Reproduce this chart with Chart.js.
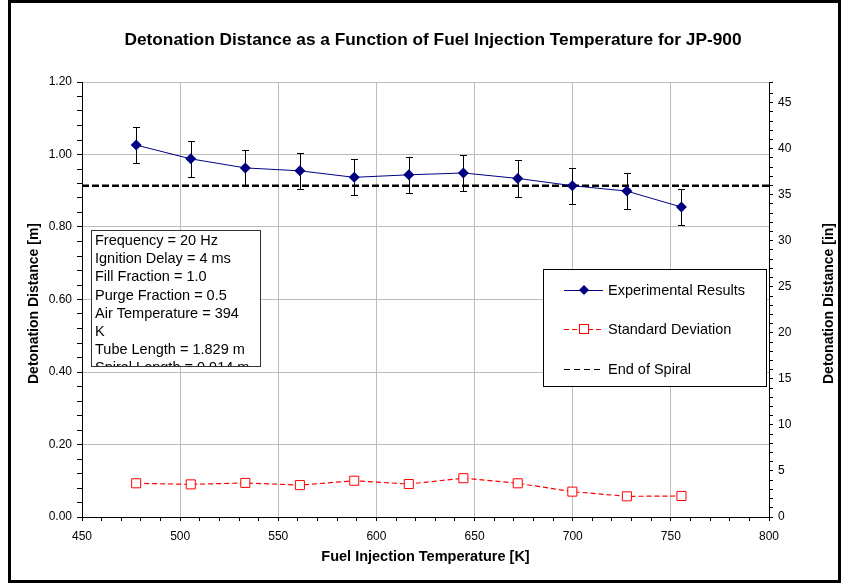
<!DOCTYPE html>
<html>
<head>
<meta charset="utf-8">
<script src="https://cdn.jsdelivr.net/npm/chart.js@4.4.1/dist/chart.umd.min.js"></script>
<style>
  html, body { margin: 0; padding: 0; background: #fff; }
  canvas { display: block; }
</style>
</head>
<body>
<canvas id="chart" width="845" height="583"></canvas>
<script>
// fuel injection temperatures [K] (400..900 F)
const temps = [477.6, 505.4, 533.2, 561.0, 588.7, 616.5, 644.3, 672.0, 699.8, 727.6, 755.4];
// measured detonation distance [m]
const detDistance = [1.026, 0.988, 0.963, 0.955, 0.937, 0.944, 0.949, 0.934, 0.914, 0.899, 0.855];
// error bar half width [m]
const errorBars = [0.05, 0.05, 0.05, 0.05, 0.05, 0.05, 0.05, 0.05, 0.05, 0.05, 0.05];
// standard deviation [m]
const stdDev = [0.093, 0.090, 0.094, 0.088, 0.100, 0.091, 0.107, 0.093, 0.070, 0.057, 0.058];
// end of spiral [m]
const spiralEnd = 0.914;
const spiralX = [450, 800];

const titleText = 'Detonation Distance as a Function of Fuel Injection Temperature for JP-900';
const xTitle = 'Fuel Injection Temperature [K]';
const yTitle = 'Detonation Distance [m]';
const y2Title = 'Detonation Distance [in]';
const seriesNames = ['Experimental Results', 'Standard Deviation', 'End of Spiral'];
const infoLines = [
  'Frequency = 20 Hz',
  'Ignition Delay = 4 ms',
  'Fill Fraction = 1.0',
  'Purge Fraction = 0.5',
  'Air Temperature = 394',
  'K',
  'Tube Length = 1.829 m',
  'Spiral Length = 0.914 m'
];

const FONT = 'Liberation Sans, Arial, sans-serif';
const NAVY = '#000080';
const RED = '#ff0000';
const GRID = '#bdbdbd';

Chart.defaults.font.family = FONT;
Chart.defaults.color = '#000';

function isMultiple(v, step) {
  const r = v / step;
  return Math.abs(r - Math.round(r)) < 1e-6;
}

function drawErrorBars(chart) {
  const ctx = chart.ctx;
  const xs = chart.scales.x;
  const ys = chart.scales.y;
  ctx.save();
  ctx.strokeStyle = '#000';
  ctx.lineWidth = 1;
  temps.forEach((t, i) => {
    const px = Math.round(xs.getPixelForValue(t)) + 0.5;
    const top = Math.round(ys.getPixelForValue(detDistance[i] + errorBars[i])) + 0.5;
    const bot = Math.round(ys.getPixelForValue(detDistance[i] - errorBars[i])) + 0.5;
    ctx.beginPath();
    ctx.moveTo(px, top); ctx.lineTo(px, bot);
    ctx.moveTo(px - 3.5, top); ctx.lineTo(px + 3.5, top);
    ctx.moveTo(px - 3.5, bot); ctx.lineTo(px + 3.5, bot);
    ctx.stroke();
  });
  ctx.restore();
}

function drawTitles(chart) {
  const ctx = chart.ctx;
  const area = chart.chartArea;
  const midY = (area.top + area.bottom) / 2;
  ctx.save();
  ctx.fillStyle = '#000';
  ctx.textAlign = 'center';
  ctx.textBaseline = 'middle';
  ctx.font = 'bold 17.3px ' + FONT;
  ctx.fillText(titleText, 433, 40);
  ctx.font = 'bold 14.5px ' + FONT;
  ctx.fillText(xTitle, (area.left + area.right) / 2, 557);
  ctx.font = 'bold 14px ' + FONT;
  ctx.save();
  ctx.translate(34, midY + 4);
  ctx.rotate(-Math.PI / 2);
  ctx.fillText(yTitle, 0, 0);
  ctx.restore();
  ctx.save();
  ctx.translate(829, midY + 4);
  ctx.rotate(-Math.PI / 2);
  ctx.fillText(y2Title, 0, 0);
  ctx.restore();
  ctx.restore();
}

function drawInfoBox(ctx) {
  const x0 = 91.5, y0 = 230.5, w = 169, h = 136;
  ctx.save();
  ctx.fillStyle = '#fff';
  ctx.fillRect(x0, y0, w, h);
  ctx.beginPath();
  ctx.rect(x0, y0, w, h);
  ctx.clip();
  ctx.fillStyle = '#000';
  ctx.font = '14.5px ' + FONT;
  ctx.textAlign = 'left';
  ctx.textBaseline = 'alphabetic';
  infoLines.forEach((line, i) => ctx.fillText(line, 95, 245 + i * 18.2));
  ctx.restore();
  ctx.save();
  ctx.strokeStyle = '#333';
  ctx.lineWidth = 1;
  ctx.strokeRect(x0, y0, w, h);
  ctx.restore();
}

function drawLegendBox(ctx) {
  const x0 = 543.5, y0 = 269.5, w = 223, h = 117;
  const rows = [290, 329, 369];
  ctx.save();
  ctx.fillStyle = '#fff';
  ctx.fillRect(x0, y0, w, h);
  ctx.strokeStyle = '#000';
  ctx.lineWidth = 1;
  ctx.strokeRect(x0, y0, w, h);

  // experimental results
  ctx.strokeStyle = NAVY;
  ctx.beginPath(); ctx.moveTo(564, rows[0] + 0.5); ctx.lineTo(603, rows[0] + 0.5); ctx.stroke();
  ctx.fillStyle = NAVY;
  ctx.beginPath();
  ctx.moveTo(584, rows[0] - 5); ctx.lineTo(589, rows[0]); ctx.lineTo(584, rows[0] + 5); ctx.lineTo(579, rows[0]);
  ctx.closePath(); ctx.fill();

  // standard deviation
  ctx.strokeStyle = RED;
  ctx.setLineDash([5, 3]);
  ctx.beginPath(); ctx.moveTo(564, rows[1] + 0.5); ctx.lineTo(603, rows[1] + 0.5); ctx.stroke();
  ctx.setLineDash([]);
  ctx.fillStyle = '#fff';
  ctx.fillRect(579.5, rows[1] - 4.5, 9, 9);
  ctx.strokeRect(579.5, rows[1] - 4.5, 9, 9);

  // end of spiral
  ctx.strokeStyle = '#000';
  ctx.setLineDash([6, 4]);
  ctx.beginPath(); ctx.moveTo(564, rows[2] + 0.5); ctx.lineTo(603, rows[2] + 0.5); ctx.stroke();
  ctx.setLineDash([]);

  ctx.fillStyle = '#000';
  ctx.font = '14.5px ' + FONT;
  ctx.textAlign = 'left';
  ctx.textBaseline = 'middle';
  seriesNames.forEach((name, i) => ctx.fillText(name, 608, rows[i] + 1));
  ctx.restore();
}

function drawFrame(ctx) {
  ctx.save();
  ctx.strokeStyle = '#000';
  ctx.lineWidth = 3;
  ctx.strokeRect(9.5, 1.5, 830, 580);
  ctx.restore();
}

const decorations = {
  id: 'decorations',
  beforeDatasetsDraw(chart) {
    drawErrorBars(chart);
  },
  afterDraw(chart) {
    const ctx = chart.ctx;
    drawTitles(chart);
    drawInfoBox(ctx);
    drawLegendBox(ctx);
    drawFrame(ctx);
  }
};

const ctx = document.getElementById('chart').getContext('2d');
new Chart(ctx, {
  type: 'line',
  data: {
    datasets: [
      {
        label: seriesNames[0],
        data: temps.map((t, i) => ({ x: t, y: detDistance[i] })),
        borderColor: NAVY,
        backgroundColor: NAVY,
        borderWidth: 1,
        pointStyle: 'rectRot',
        pointRadius: 5.5,
        pointBorderWidth: 0,
        tension: 0,
        yAxisID: 'y'
      },
      {
        label: seriesNames[1],
        data: temps.map((t, i) => ({ x: t, y: stdDev[i] })),
        borderColor: RED,
        backgroundColor: '#fff',
        borderWidth: 1.2,
        borderDash: [5, 3],
        pointStyle: 'rect',
        pointRadius: 6.4,
        pointBorderWidth: 1,
        pointBorderColor: RED,
        tension: 0,
        yAxisID: 'y'
      },
      {
        label: seriesNames[2],
        data: spiralX.map(x => ({ x: x, y: spiralEnd })),
        borderColor: '#000',
        borderWidth: 2.5,
        borderDash: [7, 3],
        pointRadius: 0,
        yAxisID: 'y'
      }
    ]
  },
  options: {
    responsive: false,
    animation: false,
    layout: { padding: { top: 82, left: 0, right: 0, bottom: 0 } },
    plugins: {
      legend: { display: false },
      title: { display: false },
      tooltip: { enabled: false }
    },
    scales: {
      x: {
        type: 'linear',
        min: 450,
        max: 800,
        afterFit: s => { s.height = 66; },
        ticks: {
          stepSize: 10,
          autoSkip: false,
          maxRotation: 0,
          padding: 8,
          font: { size: 12 },
          callback: v => isMultiple(v, 50) ? v : ''
        },
        grid: {
          color: c => c.tick && isMultiple(c.tick.value, 50) ? GRID : 'rgba(0,0,0,0)',
          tickColor: '#000',
          tickLength: 4
        },
        border: { color: '#000', width: 1 }
      },
      y: {
        position: 'left',
        min: 0,
        max: 1.2,
        afterFit: s => { s.width = 82; },
        ticks: {
          stepSize: 0.04,
          autoSkip: false,
          padding: 5,
          font: { size: 12 },
          callback: v => isMultiple(v, 0.2) ? v.toFixed(2) : ''
        },
        grid: {
          color: c => c.tick && isMultiple(c.tick.value, 0.2) ? GRID : 'rgba(0,0,0,0)',
          tickColor: '#000',
          tickLength: 5
        },
        border: { color: '#000', width: 1 }
      },
      y2: {
        position: 'right',
        min: 0,
        max: 1.2 / 0.0254,
        afterFit: s => { s.width = 76; },
        ticks: {
          stepSize: 1,
          autoSkip: false,
          padding: 5,
          font: { size: 12 },
          callback: v => Number.isInteger(v) && v % 5 === 0 ? v : ''
        },
        grid: {
          drawOnChartArea: false,
          tickColor: '#000',
          tickLength: 4
        },
        border: { color: '#000', width: 1 }
      }
    }
  },
  plugins: [decorations]
});
</script>
</body>
</html>
